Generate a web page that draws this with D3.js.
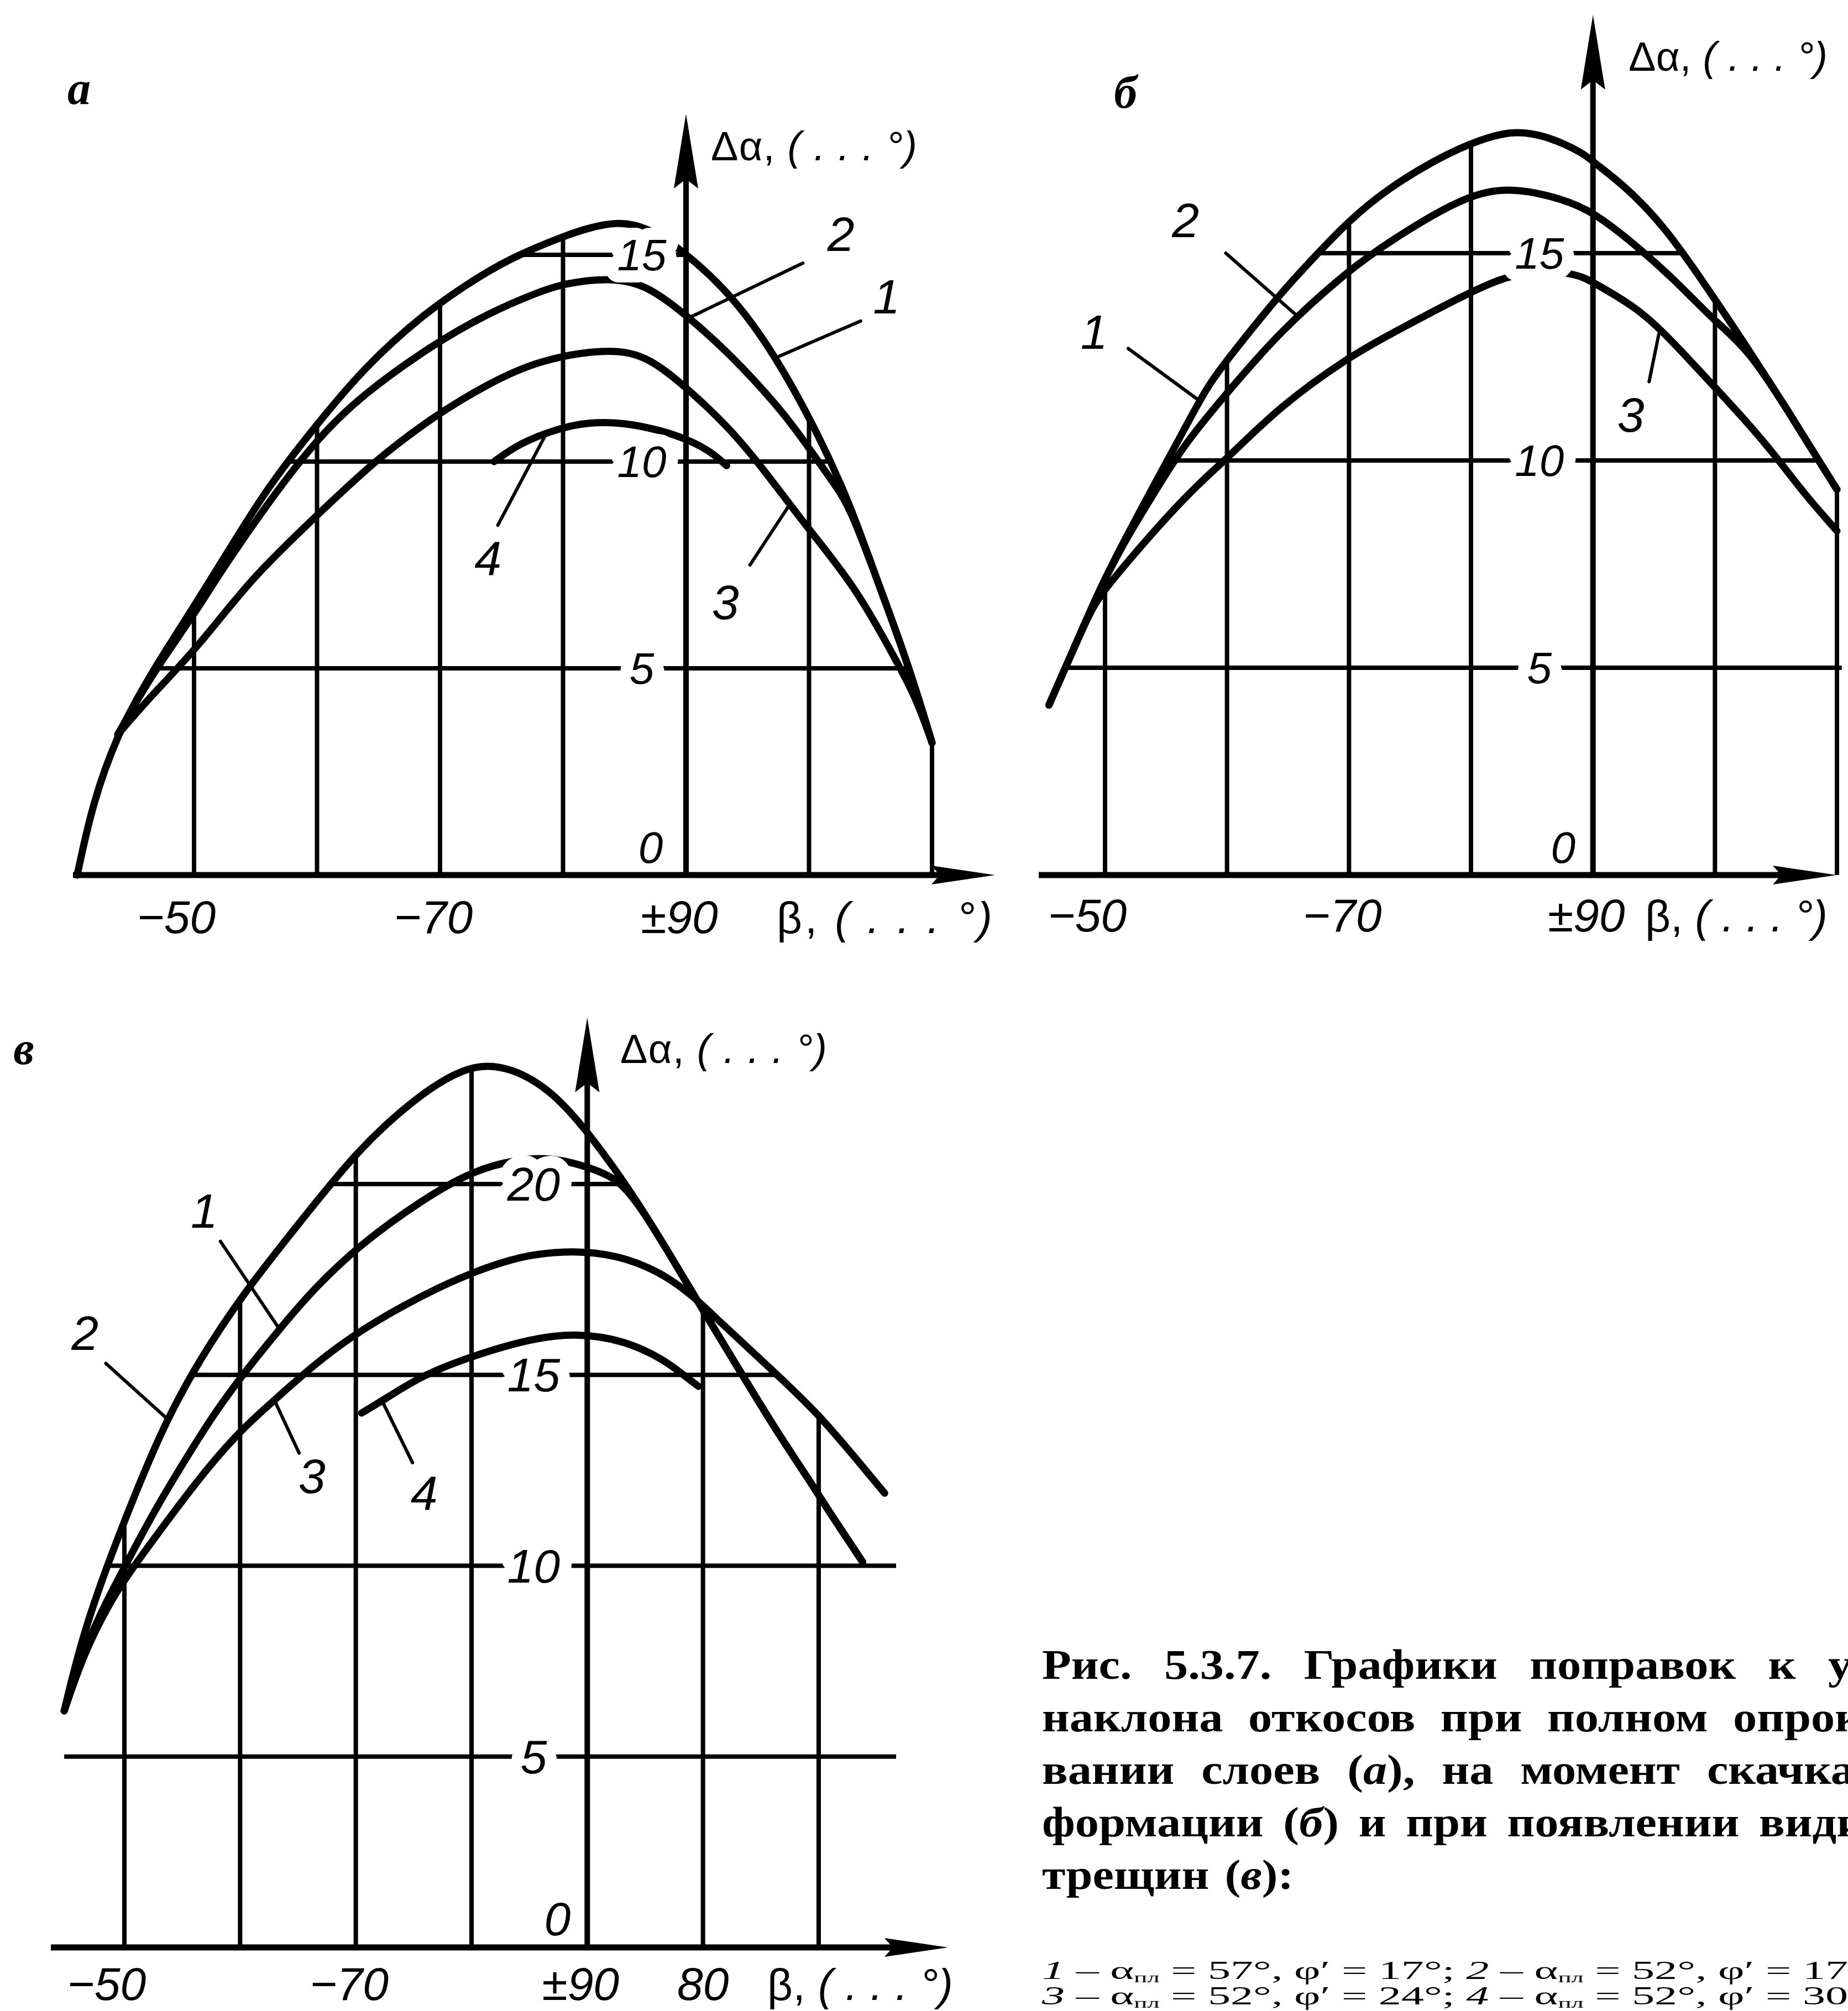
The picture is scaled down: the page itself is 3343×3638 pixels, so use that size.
<!DOCTYPE html>
<html>
<head>
<meta charset="utf-8">
<script src="https://cdn.jsdelivr.net/npm/d3@7/dist/d3.min.js"></script>
<style>
body { margin: 0; background: #fff; }
svg { display: block; }
</style>
</head>
<body>
<script>
// beta runs along the axis -50 ... -90 = +90 ... 70, so u = |beta| on the left, u = 180 - beta on the right
// points are [u, delta alpha]

// panel a
var aCurve1 = [[40.5,0],[41.8,1.8],[43.8,3.4],[45.6,4.4],[47.4,5.3],[50,6.5],[52.3,7.6],[56,9.4],[60,10.9],[63.6,12.2],[68.7,13.6],[73.8,14.6],[76.4,15.0],[79.6,15.4],[82,15.65],[84.4,15.8],[86.7,15.7],[90,15.05],[93.8,14.0],[97.2,12.6],[100.7,10.7],[103.3,9.0],[105.7,7.0],[107.7,5.4],[109.3,3.9],[110,3.2]];
var aCurve2 = [[43.8,3.4],[45.6,4.35],[47.4,5.2],[50,6.3],[52.3,7.4],[56,9.0],[60,10.55],[63.6,11.6],[69.5,12.85],[74,13.6],[78,14.1],[80,14.3],[83.6,14.45],[86.7,14.3],[90,13.55],[93.6,12.6],[97.6,11.3],[99.6,10.5],[101.7,9.6],[103.3,8.95],[105.7,7.0],[107.7,5.4],[109.3,3.9],[110,3.2]];
var aCurve3 = [[43.8,3.4],[46.4,4.3],[50.3,5.5],[54.7,7.2],[60,8.7],[64.6,10.0],[69.5,11.1],[74,11.9],[78,12.45],[83.3,12.73],[86.7,12.6],[90,11.8],[93.6,10.8],[96.6,9.7],[99.6,8.5],[103.7,7.0],[106.7,5.4],[108.7,4.3],[110,3.2]];
var aCurve4 = [[74.4,10.0],[76.5,10.45],[79.6,10.8],[82,10.95],[84.9,10.95],[88,10.75],[90,10.55],[92,10.25],[93.3,9.9]];

// panel б
var bCurve1 = [[45.4,4.1],[47.5,5.5],[49.7,7.0],[52,8.3],[54,9.4],[56.5,10.75],[58.4,11.8],[60.2,12.5],[64.3,14.0],[66.5,14.7],[70,15.8],[73.4,16.6],[76.8,17.2],[79.5,17.6],[83.4,18.0],[86.5,17.8],[89.3,17.4],[90,17.2],[92.3,16.7],[95.8,15.7],[100.2,13.8],[102.7,12.7],[106.2,11.1],[108.5,10.0],[110,9.3]];
var bCurve2 = [[45.4,4.1],[47.5,5.5],[49.7,7.0],[52,8.25],[54,9.2],[56.5,10.4],[60.2,11.7],[64.3,13.1],[70,14.6],[73.4,15.3],[79.5,16.4],[83.4,16.6],[87.6,16.3],[90,16.0],[93.5,15.2],[96.9,14.3],[100,13.35],[102.7,12.7],[106.2,11.1],[108.5,10.0],[110,9.3]];
var bCurve3 = [[45.4,4.1],[47.5,5.5],[49,6.5],[50.4,7.05],[54,8.3],[57.5,9.4],[60.2,10.1],[64.3,11.3],[70,12.5],[73.4,13.05],[79.5,14.0],[82.5,14.4],[85.5,14.6],[88.7,14.5],[90,14.3],[93.5,13.7],[95.8,13.1],[100.2,11.7],[102.7,10.9],[105,10.1],[107.3,9.2],[110,8.3]];

// panel в
var cCurve1 = [[44.8,6.2],[46.5,7.8],[48.5,9.1],[50,9.95],[52.5,11.4],[55.6,12.95],[57.8,14.0],[60.2,15.0],[63.4,16.2],[66.5,17.3],[70.5,18.45],[75.8,19.6],[80.1,20.35],[83.9,20.65],[87,20.7],[90,20.45],[92.3,20.2],[94.4,19.55],[98.9,17.25],[100.2,16.6],[103.2,15.1],[106.2,13.6],[109.5,12.1],[110.5,11.6],[113.8,10.1]];
var cCurve2 = [[44.8,6.2],[46.6,8.45],[50,11.2],[53.4,13.7],[56.5,15.4],[60.2,17.1],[64.9,18.9],[70.2,20.9],[74.2,22.0],[77.3,22.7],[80.4,23.15],[83.5,23.05],[86.9,22.45],[90,21.4],[94.4,19.55],[98.9,17.25],[100.2,16.6],[103.2,15.1],[106.2,13.6],[109.5,12.1],[110.5,11.6],[113.8,10.1]];
var cCurve3 = [[44.8,6.2],[46.5,7.7],[48.5,8.9],[50,9.65],[54,11.3],[57,12.5],[60.2,13.6],[63.2,14.4],[66.5,15.3],[70.5,16.2],[75.8,17.1],[80.1,17.7],[85.1,18.2],[90,18.25],[93.3,18.07],[96.6,17.65],[99.4,17.0],[100.9,16.55],[104.1,15.65],[107.3,14.75],[110,13.95],[112.7,13.0],[115.7,11.9]];
var cCurve4 = [[70.5,14.0],[72.7,14.4],[75.8,15.0],[80.1,15.5],[85.1,15.95],[89,16.1],[93.3,15.9],[96.6,15.4],[98.1,15.05],[99.6,14.7]];

// ticks
var gridU = [50, 60, 70, 80, 100, 110];
var xTicksA = [50, 70, 90], xTicksB = [50, 70, 90], xTicksC = [50, 70, 90, 100];
var yTicksA = [0, 5, 10, 15], yTicksB = [0, 5, 10, 15], yTicksC = [0, 5, 10, 15, 20];

// curve number call-outs: label point, leader start, leader end
var leadersA = [
  {name:"2", label:[102.6,15.5], from:[99.5,14.8], to:[90.4,13.5]},
  {name:"1", label:[106.3,14.0], from:[104.2,13.4], to:[97.6,12.55]},
  {name:"4", label:[73.9,7.66], from:[74.7,8.46], to:[78.5,10.6]},
  {name:"3", label:[93.2,6.6], from:[95.2,7.5], to:[98.4,8.95]}
];
var leadersB = [
  {name:"2", label:[56.6,15.8], from:[59.9,15.0], to:[65.7,13.5]},
  {name:"1", label:[49.1,13.1], from:[51.9,12.7], to:[57.7,11.45]},
  {name:"3", label:[93.1,11.1], from:[94.6,11.9], to:[95.4,13.05]}
];
var leadersC = [
  {name:"1", label:[56.9,19.3], from:[58.3,18.5], to:[63.4,16.2]},
  {name:"2", label:[46.6,16.1], from:[48.4,15.3], to:[53.7,13.85]},
  {name:"3", label:[66.2,12.35], from:[65.1,12.95], to:[63.1,14.25]},
  {name:"4", label:[75.9,11.9], from:[74.9,12.7], to:[72.3,14.3]}
];

var W = 3343, H = 3638;
var svg = d3.select("body").append("svg").attr("width", W).attr("height", H);
svg.append("rect").attr("width", W).attr("height", H).attr("fill", "#fff");

var panels = [
  {letter:"а", curves:[aCurve1,aCurve2,aCurve3,aCurve4], xTicks:xTicksA, yTicks:yTicksA, leaders:leadersA,
   xRange:[351,1686], yMax:15, y0:1583, yTop:461, axisTop:206, xFrom:132, xTo:1800,
   hFrom:38, envRight:110.4, labDx:-80, zeroDx:-64, labFs:80, tickY:1688,
   letterXY:[143,188], yTitle:[1286,290,373], xTitle:[1405,1688,390]},
  {letter:"б", curves:[bCurve1,bCurve2,bCurve3], xTicks:xTicksB, yTicks:yTicksB, leaders:leadersB,
   xRange:[1999,3323], yMax:15, y0:1583, yTop:458, axisTop:27, xFrom:1879, xTo:3322,
   hFrom:44, envRight:110.4, labDx:-97, zeroDx:-54, labFs:80, tickY:1685,
   letterXY:[2036,195], yTitle:[2946,128,360], xTitle:[2976,1685,330]},
  {letter:"в", curves:[cCurve1,cCurve2,cCurve3,cCurve4], xTicks:xTicksC, yTicks:yTicksC, leaders:leadersC,
   xRange:[225,1481], yMax:20, y0:3523, yTop:2142, axisTop:1841, xFrom:92, xTo:1715,
   hFrom:44, envRight:116.7, labDx:-97, zeroDx:-54, labFs:86, tickY:3618,
   letterXY:[43,1925], yTitle:[1122,1923,374], xTitle:[1388,3618,336]}
];

function interp(c, u) {
  if (u < c[0][0] - 1e-9 || u > c[c.length-1][0] + 1e-9) return null;
  for (var i = 1; i < c.length; i++) {
    if (u <= c[i][0] + 1e-9) {
      var t = (u - c[i-1][0]) / (c[i][0] - c[i-1][0]);
      return c[i-1][1] + t * (c[i][1] - c[i-1][1]);
    }
  }
  return c[c.length-1][1];
}

function betaLabel(u) {
  if (u < 90) return "\u2212" + u;
  if (u === 90) return "\u00b190";
  return String(180 - u);
}

var numFont = "'Liberation Sans', Arial, sans-serif";

panels.forEach(function(p, pi) {
  var x = d3.scaleLinear().domain([50, 110]).range(p.xRange);
  var y = d3.scaleLinear().domain([0, p.yMax]).range([p.y0, p.yTop]);
  var ax = x(90);
  var g = svg.append("g");

  // area under the outer curve, grid lines stay inside it
  var lo = d3.min(p.curves, function(c) { return c[0][0]; });
  var hi = d3.max(p.curves, function(c) { return c[c.length-1][0]; });
  var env = [];
  for (var k = 0; lo + k * 0.2 <= hi + 1e-9; k++) {
    var u = lo + k * 0.2, m = null;
    p.curves.forEach(function(c) { var v = interp(c, u); if (v !== null && (m === null || v > m)) m = v; });
    if (m !== null) env.push([u, m]);
  }
  var mHi = d3.max(p.curves, function(c) { return interp(c, hi); });
  env.push([hi, mHi]);
  var poly = [[lo, 0]].concat(env, [[p.envRight, mHi], [p.envRight, 0]]);
  var clipId = "env" + pi;
  g.append("clipPath").attr("id", clipId).append("path")
    .attr("d", d3.line().x(function(d) { return x(d[0]); }).y(function(d) { return y(d[1]); })(poly) + "Z");

  var grid = g.append("g").attr("clip-path", "url(#" + clipId + ")")
    .attr("stroke", "#000").attr("stroke-width", 8);
  gridU.forEach(function(u) {
    grid.append("line").attr("x1", x(u)).attr("x2", x(u)).attr("y1", y(0)).attr("y2", y(p.yMax + 6));
  });
  p.yTicks.filter(function(v) { return v > 0; }).forEach(function(v) {
    grid.append("line").attr("x1", x(p.hFrom)).attr("x2", x(p.envRight)).attr("y1", y(v)).attr("y2", y(v));
  });

  // curves, smoothed through the read-off points
  var line = d3.line()
    .x(function(d) { return x(d[0]); })
    .y(function(d) { return y(d[1]); })
    .curve(d3.curveBasis);
  g.selectAll(".curve").data(p.curves).enter().append("path")
    .attr("class", "curve")
    .attr("d", line)
    .attr("fill", "none").attr("stroke", "#000").attr("stroke-width", 13)
    .attr("stroke-linecap", "round").attr("stroke-linejoin", "round");

  // call-outs
  p.leaders.forEach(function(l) {
    g.append("line")
      .attr("x1", x(l.from[0])).attr("y1", y(l.from[1]))
      .attr("x2", x(l.to[0])).attr("y2", y(l.to[1]))
      .attr("stroke", "#000").attr("stroke-width", 6).attr("stroke-linecap", "round");
    g.append("text")
      .attr("x", x(l.label[0])).attr("y", y(l.label[1])).attr("dy", "0.35em")
      .attr("text-anchor", "middle").attr("font-family", numFont)
      .attr("font-style", "italic").attr("font-size", 88).text(l.name);
  });

  // values on the axis, with a white gap around them
  p.yTicks.forEach(function(v) {
    var t = g.append("text").attr("text-anchor", "middle").attr("font-family", numFont)
      .attr("font-style", "italic").attr("font-size", p.labFs).text(v);
    if (v === 0) {
      t.attr("x", ax + p.zeroDx).attr("y", y(0) - 22);
    } else {
      t.attr("x", ax + p.labDx).attr("y", y(v)).attr("dy", "0.35em")
        .attr("stroke", "#fff").attr("stroke-width", 44)
        .attr("stroke-linejoin", "round").attr("paint-order", "stroke");
    }
  });

  // axes
  g.append("line").attr("x1", ax).attr("x2", ax).attr("y1", y(0)).attr("y2", p.axisTop + 60)
    .attr("stroke", "#000").attr("stroke-width", 10);
  g.append("path")
    .attr("d", "M" + ax + "," + p.axisTop + "L" + (ax - 22) + "," + (p.axisTop + 135) +
      "L" + ax + "," + (p.axisTop + 118) + "L" + (ax + 22) + "," + (p.axisTop + 135) + "Z")
    .attr("fill", "#000");
  g.append("line").attr("x1", p.xFrom).attr("x2", p.xTo - 50).attr("y1", y(0)).attr("y2", y(0))
    .attr("stroke", "#000").attr("stroke-width", 11);
  g.append("path")
    .attr("d", "M" + p.xTo + "," + y(0) + "L" + (p.xTo - 115) + "," + (y(0) - 17) +
      "L" + (p.xTo - 100) + "," + y(0) + "L" + (p.xTo - 115) + "," + (y(0) + 17) + "Z")
    .attr("fill", "#000");

  // beta labels
  p.xTicks.forEach(function(u) {
    var dx = u === 50 ? -32 : (u > 90 ? 0 : -12);
    g.append("text").attr("x", x(u) + dx).attr("y", p.tickY)
      .attr("text-anchor", "middle").attr("font-family", numFont)
      .attr("font-style", "italic").attr("font-size", 84).text(betaLabel(u));
  });

  // axis titles
  var yt = g.append("text").attr("x", p.yTitle[0]).attr("y", p.yTitle[1])
    .attr("font-family", numFont).attr("font-size", 74)
    .attr("textLength", p.yTitle[2]).attr("lengthAdjust", "spacing");
  yt.append("tspan").text("\u0394\u03b1,");
  yt.append("tspan").attr("font-style", "italic").text(" ( . . . \u00b0)");
  var xt = g.append("text").attr("x", p.xTitle[0]).attr("y", p.xTitle[1])
    .attr("font-family", numFont).attr("font-size", 80)
    .attr("textLength", p.xTitle[2]).attr("lengthAdjust", "spacing");
  xt.append("tspan").text("\u03b2,");
  xt.append("tspan").attr("font-style", "italic").text(" ( . . . \u00b0)");

  g.append("text").attr("x", p.letterXY[0]).attr("y", p.letterXY[1])
    .attr("text-anchor", "middle").attr("font-family", "'Liberation Serif', serif")
    .attr("font-weight", "bold").attr("font-style", "italic").attr("font-size", 84)
    .text(p.letter);
});

// caption (the page is cut at the right edge, as in the scan)
var capX = 1885;
var capLines = [
  {words:["Рис.","5.3.7.","Графики","поправок","к","у"], lastX:3307, base:3037},
  {words:["наклона","откосов","при","полном","опрок"], lastX:3135, base:3132},
  {words:["вании","слоев","(_а_),","на","момент","скачка"], lastX:3088, base:3227},
  {words:["формации","(_б_)","и","при","появлении","види"], lastX:3182, base:3322},
  {words:["трещин","(_в_):"], lastX:null, base:3417}
];
var capFont = "'Liberation Serif', 'Times New Roman', serif";
var probe = svg.append("text").attr("font-family", capFont).attr("font-weight", "bold")
  .attr("font-size", 76).text("Графики");
var capScale = 350 / probe.node().getComputedTextLength();
probe.remove();

capLines.forEach(function(ln) {
  var g = svg.append("g").attr("transform", "translate(" + capX + "," + ln.base + ") scale(" + capScale + ",1)");
  var t = g.append("text").attr("font-family", capFont).attr("font-weight", "bold").attr("font-size", 76);
  var spans = ln.words.map(function(w) {
    var sp = t.append("tspan");
    w.split("_").forEach(function(part, k) {
      if (part) sp.append("tspan").attr("font-style", k % 2 ? "italic" : "normal").text(part);
    });
    return sp;
  });
  var widths = spans.map(function(sp) { return sp.node().getComputedTextLength(); });
  var gap;
  if (ln.lastX) {
    gap = ((ln.lastX - capX) / capScale - d3.sum(widths.slice(0, -1))) / (widths.length - 1);
  } else {
    gap = 28 / capScale;
  }
  var xx = 0;
  spans.forEach(function(sp, k) { sp.attr("x", xx); xx += widths[k] + gap; });
});

// legend of the curves
var legendRows = [
  {parts:[["1","i"],[" \u2013 \u03b1"],["пл","s"],[" = 57\u00b0, \u03c6\u2032 = 17\u00b0; "],["2","i"],[" \u2013 \u03b1"],["пл","s"],[" = 52\u00b0, \u03c6\u2032 = "],["17","m"]], base:3580},
  {parts:[["3","i"],[" \u2013 \u03b1"],["пл","s"],[" = 52\u00b0, \u03c6\u2032 = 24\u00b0; "],["4","i"],[" \u2013 \u03b1"],["пл","s"],[" = 52\u00b0, \u03c6\u2032 = "],["30","m"]], base:3626}
];
legendRows.forEach(function(row) {
  var g = svg.append("g").attr("transform", "translate(" + capX + "," + row.base + ")");
  var t = g.append("text").attr("font-family", capFont).attr("font-size", 46);
  var idx = 0, markIdx = 0, shifted = false;
  row.parts.forEach(function(pt) {
    var sp = t.append("tspan").text(pt[0]);
    if (pt[1] === "i") sp.attr("font-style", "italic");
    if (pt[1] === "s") { sp.attr("font-size", 25).attr("dy", 6); shifted = true; }
    else if (shifted) { sp.attr("dy", -6); shifted = false; }
    if (pt[1] === "m") markIdx = idx;
    idx += pt[0].length;
  });
  var pos = t.node().getStartPositionOfChar(markIdx).x;
  var s = (3261 - capX) / pos;
  g.attr("transform", "translate(" + capX + "," + row.base + ") scale(" + s + ",1)");
});
</script>
</body>
</html>
